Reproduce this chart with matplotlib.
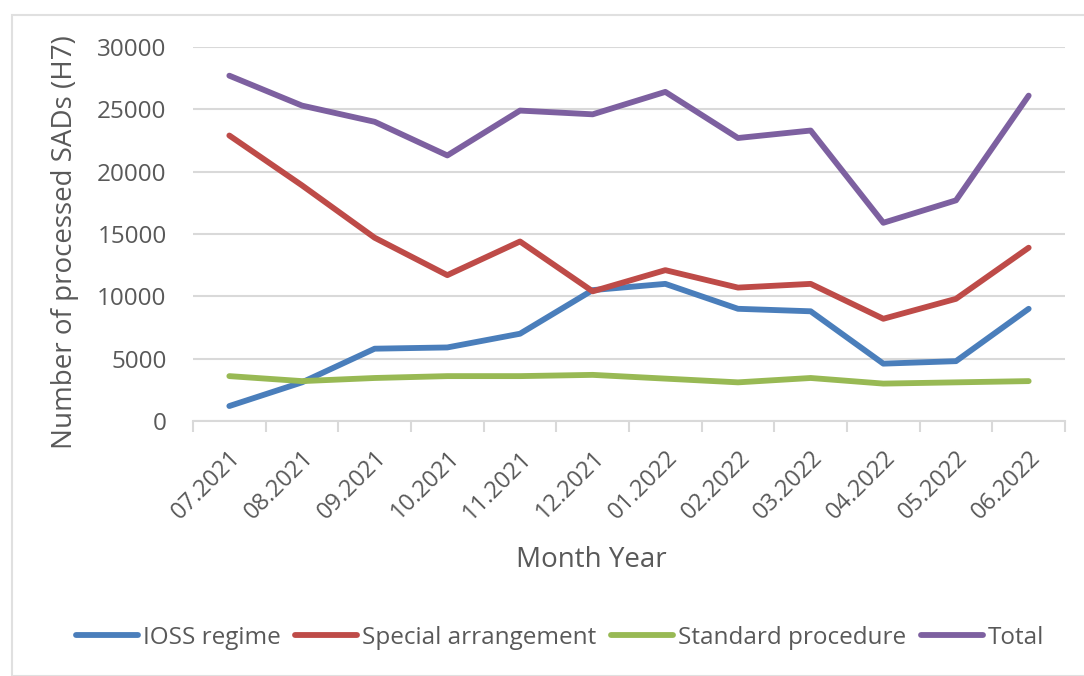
import matplotlib.pyplot as plt
import matplotlib.patches as patches
import numpy as np

plt.rcParams['font.family'] = ['Open Sans', 'DejaVu Sans']

# data
months = ['07.2021', '08.2021', '09.2021', '10.2021', '11.2021', '12.2021',
          '01.2022', '02.2022', '03.2022', '04.2022', '05.2022', '06.2022']
ioss = [1200, 3100, 5800, 5900, 7000, 10500, 11000, 9000, 8800, 4600, 4800, 9000]
special = [22900, 18900, 14700, 11700, 14400, 10400, 12100, 10700, 11000, 8200, 9800, 13900]
standard = [3600, 3200, 3450, 3600, 3600, 3700, 3400, 3100, 3450, 3000, 3100, 3200]
total = [27700, 25300, 24000, 21300, 24900, 24600, 26400, 22700, 23300, 15900, 17700, 26100]

txt = '#595959'
grid = '#d9d9d9'

fig = plt.figure(figsize=(10.84, 6.76), dpi=100)
# outer chart border
fig.patches.append(patches.Rectangle((12/1084, 0), 1.0, 1 - 15/676, transform=fig.transFigure,
                                     fill=False, edgecolor='#e0e0e0', linewidth=1.5))

ax = fig.add_axes([193/1084, 1 - 421/676, (1065 - 193)/1084, (421 - 47)/676])

x = np.arange(len(months))
lw = 4.2
ax.plot(x, ioss, color='#4A7EBB', lw=lw, label='IOSS regime', solid_capstyle='round')
ax.plot(x, special, color='#BE4B48', lw=lw, label='Special arrangement', solid_capstyle='round')
ax.plot(x, standard, color='#98B954', lw=lw, label='Standard procedure', solid_capstyle='round')
ax.plot(x, total, color='#7D60A0', lw=lw, label='Total', solid_capstyle='round')

ax.set_xlim(-0.5, len(months) - 0.5)
ax.set_ylim(0, 30000)
ax.set_yticks(range(0, 30001, 5000))
ax.yaxis.grid(True, color=grid, lw=1.5)
ax.set_axisbelow(True)

for s in ['top', 'right', 'left']:
    ax.spines[s].set_visible(False)
ax.spines['bottom'].set_color(grid)
ax.spines['bottom'].set_linewidth(1.5)

# ticks between categories, labels at centres
ax.set_xticks(np.arange(-0.5, len(months), 1.0))
ax.set_xticklabels([])
ax.set_xticks(x, minor=True)
ax.set_xticklabels(months, minor=True, rotation=45, ha='right', rotation_mode='anchor',
                   fontsize=17, color=txt)
ax.tick_params(axis='x', which='major', length=8, width=1.5, color=grid)
ax.tick_params(axis='x', which='minor', length=0, pad=18)
ax.tick_params(axis='y', length=0, labelsize=17.5, labelcolor=txt, pad=19)

fig.text(65/1084, 1 - 242/676, 'Number of processed SADs (H7)', rotation=90,
         ha='center', va='center', fontsize=20, color=txt)
fig.text(591/1084, 1 - 560/676, 'Month Year', ha='center', va='center',
         fontsize=20, color=txt)

fig.legend(loc='center', bbox_to_anchor=(560/1084, 1 - 638/676), ncol=4, frameon=False,
           fontsize=17.5, labelcolor=txt, handlelength=2.55, handletextpad=0.2,
           columnspacing=0.6)

fig.savefig('out.png', dpi=100)
